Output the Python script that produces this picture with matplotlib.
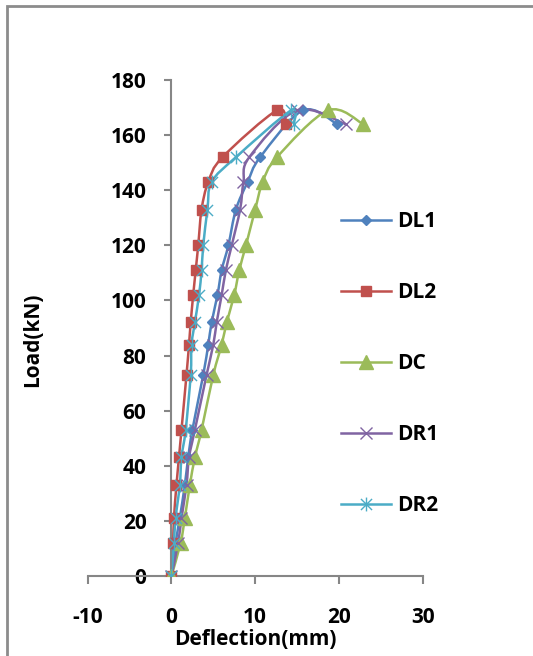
import numpy as np
import matplotlib
matplotlib.use("Agg")
import matplotlib.pyplot as plt
from matplotlib.path import Path
from matplotlib.patches import PathPatch, Rectangle
from matplotlib.lines import Line2D

# load steps (kN), shared by all specimens
load = [0, 12, 21, 33, 43, 53, 73, 84, 92, 102, 111, 120, 133, 143, 152, 169, 164]

# deflection (mm) per specimen
dl1 = [0, 0.5, 1.0, 1.6, 2.0, 2.5, 3.8, 4.4, 4.8, 5.5, 6.0, 6.8, 7.7, 9.1, 10.6, 15.7, 19.8]
dl2 = [0, 0.2, 0.3, 0.6, 0.9, 1.2, 1.8, 2.1, 2.3, 2.6, 2.9, 3.2, 3.6, 4.4, 6.1, 12.6, 13.7]
dc = [0, 1.1, 1.6, 2.2, 2.8, 3.6, 5.0, 6.0, 6.6, 7.5, 8.1, 8.9, 10.0, 10.9, 12.6, 18.7, 22.9]
dr1 = [0, 0.8, 1.2, 1.8, 2.1, 2.8, 4.2, 5.0, 5.4, 6.0, 6.5, 7.2, 8.2, 8.6, 9.3, 15.0, 20.8]
dr2 = [0, 0.3, 0.5, 1.0, 1.2, 1.7, 2.3, 2.4, 2.8, 3.3, 3.6, 3.8, 4.3, 4.8, 7.7, 14.3, 14.6]

names = ["DL1", "DL2", "DC", "DR1", "DR2"]
series = [dl1, dl2, dc, dr1, dr2]
colors = ["#4F81BD", "#C0504D", "#9BBB59", "#8064A2", "#4BACC6"]

star = Path([(-1, -1), (1, 1), (-1, 1), (1, -1), (0, -1.25), (0, 1.25)],
            [Path.MOVETO, Path.LINETO, Path.MOVETO, Path.LINETO, Path.MOVETO, Path.LINETO])
markers = [("D", 5, 1), ("s", 7, 1), ("^", 10, 1), ("x", 9, 1.0), (star, 10, 1.0)]

plt.rcParams['font.family'] = ['Open Sans', 'DejaVu Sans']
plt.rcParams['font.weight'] = 'bold'
plt.rcParams['axes.unicode_minus'] = False
FS = 15


def smooth(xs, ys):
    # excel-like smoothed line (bezier through the data points)
    p = np.column_stack([xs, ys]).astype(float)
    n = len(p)
    verts = [p[0]]
    codes = [Path.MOVETO]
    for i in range(n - 1):
        p0 = p[i - 1] if i > 0 else p[i]
        p3 = p[i + 2] if i + 2 < n else p[i + 1]
        verts += [p[i] + (p[i + 1] - p0) / 6, p[i + 1] - (p3 - p[i]) / 6, p[i + 1]]
        codes += [Path.CURVE4] * 3
    return Path(verts, codes)


fig = plt.figure(figsize=(5.33, 6.56), dpi=100)
ax = fig.add_axes([0.1645, 0.122, 0.6285, 0.756])

handles = []
for name, xs, c, (m, ms, mew) in zip(names, series, colors, markers):
    ax.add_patch(PathPatch(smooth(xs, load), fc="none", ec=c, lw=1.8, zorder=2))
    ax.plot(xs, load, ls="none", marker=m, ms=ms, color=c, mec=c, mew=mew, zorder=3)
    handles.append(Line2D([], [], color=c, lw=1.8, marker=m, ms=ms, mec=c, mew=mew))

ax.set_xlim(-10, 30)
ax.set_ylim(0, 180)
ax.set_xticks([-10, 0, 10, 20, 30])
ax.set_yticks(range(0, 181, 20))

for s in ["top", "right"]:
    ax.spines[s].set_visible(False)
ax.spines["left"].set_position(("data", 0))
for s in ["left", "bottom"]:
    ax.spines[s].set_color("#868686")
    ax.spines[s].set_linewidth(1.5)
ax.tick_params(axis="both", colors="#868686", labelcolor="black", width=1.5, labelsize=FS)
ax.tick_params(axis="y", length=5, pad=13)
ax.tick_params(axis="x", length=6, pad=16)

ax.set_xlabel("Deflection(mm)", fontsize=FS, fontweight="bold", labelpad=1)
fig.text(0.062, 0.482, "Load(kN)", rotation=90, fontsize=FS, fontweight="bold",
         ha="center", va="center")

leg = ax.legend(handles, names, loc="upper left", bbox_to_anchor=(0.70, 0.774),
                frameon=False, fontsize=FS, handlelength=2.4, handletextpad=0.3,
                labelspacing=2.4)

fig.patches.append(Rectangle((6.5 / 533, -0.1), 2, 0.9916 + 0.1, transform=fig.transFigure,
                             fill=False, ec="#8c8c8c", lw=2))

fig.savefig("out.png", dpi=100)
